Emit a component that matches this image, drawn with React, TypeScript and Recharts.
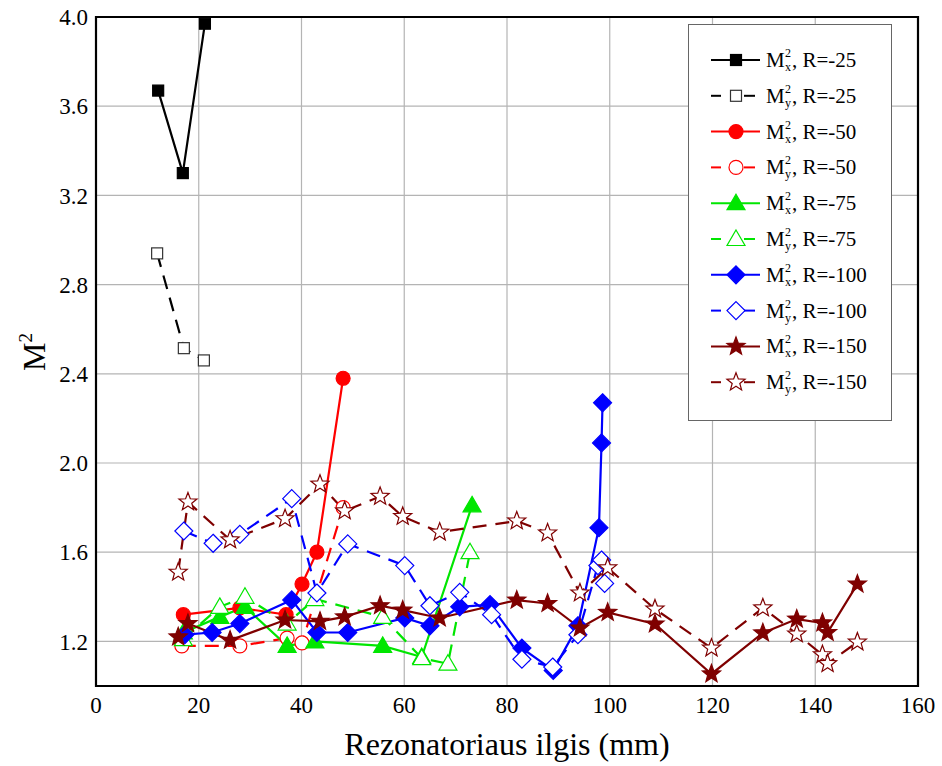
import React from 'react';
import { LineChart, Line, XAxis, YAxis, CartesianGrid, ReferenceArea } from 'recharts';

// [length mm, M^2]
const mxR25 = [[12.1, 3.67], [16.9, 3.3], [21.2, 3.97]];
const myR25 = [[11.9, 2.94], [17.1, 2.515], [21.0, 2.46]];
const mxR50 = [[17.0, 1.32], [28.0, 1.35], [37.0, 1.32], [40.1, 1.457], [43.0, 1.6], [48.1, 2.38]];
const myR50 = [[16.7, 1.18], [28.0, 1.18], [37.2, 1.215], [40.1, 1.193], [48.1, 1.8]];
const mxR75 = [[17.0, 1.24], [24.1, 1.31], [29.0, 1.355], [37.2, 1.18], [42.6, 1.2], [55.8, 1.18], [63.4, 1.13], [73.2, 1.81]];
const myR75 = [[17.0, 1.21], [24.1, 1.355], [29.0, 1.4], [37.2, 1.28], [42.6, 1.39], [55.8, 1.31], [63.4, 1.125], [68.5, 1.1], [72.8, 1.6]];
const mxR100 = [[17.3, 1.23], [22.6, 1.24], [28.0, 1.28], [38.1, 1.386], [43.0, 1.24], [49.0, 1.24], [60.1, 1.305], [65.0, 1.27], [70.8, 1.355], [76.7, 1.365], [82.9, 1.17], [89.0, 1.07], [93.8, 1.27], [97.9, 1.71], [98.4, 2.09], [98.6, 2.27]];
const myR100 = [[17.1, 1.695], [22.8, 1.64], [28.0, 1.68], [38.1, 1.84], [43.0, 1.417], [49.0, 1.637], [60.1, 1.54], [65.0, 1.36], [70.8, 1.42], [77.0, 1.32], [82.9, 1.12], [88.9, 1.085], [93.8, 1.23], [97.7, 1.54], [98.4, 1.565], [99.0, 1.46]];
const mxR150 = [[16.0, 1.22], [17.9, 1.28], [26.1, 1.205], [36.8, 1.296], [43.6, 1.29], [48.4, 1.31], [55.3, 1.36], [59.7, 1.34], [66.9, 1.305], [81.9, 1.385], [87.9, 1.37], [94.2, 1.26], [99.6, 1.33], [108.8, 1.278], [119.8, 1.054], [129.8, 1.238], [136.4, 1.3], [141.4, 1.283], [142.4, 1.24], [148.2, 1.457]];
const myR150 = [[16.0, 1.51], [17.9, 1.825], [26.1, 1.655], [36.8, 1.75], [43.6, 1.905], [48.4, 1.785], [55.3, 1.85], [59.7, 1.76], [66.9, 1.69], [81.9, 1.74], [87.9, 1.686], [94.2, 1.417], [99.6, 1.53], [108.8, 1.345], [119.8, 1.17], [129.8, 1.35], [136.4, 1.233], [141.4, 1.14], [142.4, 1.1], [148.2, 1.197]];

const xTicks = [0, 20, 40, 60, 80, 100, 120, 140, 160];
const yTicks = [1.2, 1.6, 2.0, 2.4, 2.8, 3.2, 3.6, 4.0];

const FONT = '"Liberation Serif", "Times New Roman", serif';
const GREEN = '#00e600';
const MAROON = '#7f0000';

type Shape = 'square' | 'circle' | 'triangle' | 'diamond' | 'star';

const series = [
  { key: 'mxR25', sub: 'x', r: '-25', pts: mxR25, color: '#000', dashed: false, shape: 'square' as Shape, filled: true },
  { key: 'myR25', sub: 'y', r: '-25', pts: myR25, color: '#000', dashed: true, shape: 'square' as Shape, filled: false },
  { key: 'mxR50', sub: 'x', r: '-50', pts: mxR50, color: '#ff0000', dashed: false, shape: 'circle' as Shape, filled: true },
  { key: 'myR50', sub: 'y', r: '-50', pts: myR50, color: '#ff0000', dashed: true, shape: 'circle' as Shape, filled: false },
  { key: 'mxR75', sub: 'x', r: '-75', pts: mxR75, color: GREEN, dashed: false, shape: 'triangle' as Shape, filled: true },
  { key: 'myR75', sub: 'y', r: '-75', pts: myR75, color: GREEN, dashed: true, shape: 'triangle' as Shape, filled: false },
  { key: 'mxR100', sub: 'x', r: '-100', pts: mxR100, color: '#0000ff', dashed: false, shape: 'diamond' as Shape, filled: true },
  { key: 'myR100', sub: 'y', r: '-100', pts: myR100, color: '#0000ff', dashed: true, shape: 'diamond' as Shape, filled: false },
  { key: 'mxR150', sub: 'x', r: '-150', pts: mxR150, color: MAROON, dashed: false, shape: 'star' as Shape, filled: true },
  { key: 'myR150', sub: 'y', r: '-150', pts: myR150, color: MAROON, dashed: true, shape: 'star' as Shape, filled: false },
];

const starPath = (cx: number, cy: number, ro: number, ri: number) => {
  let d = '';
  for (let i = 0; i < 10; i++) {
    const r = i % 2 === 0 ? ro : ri;
    const a = -Math.PI / 2 + (i * Math.PI) / 5;
    d += (i === 0 ? 'M' : 'L') + (cx + r * Math.cos(a)).toFixed(2) + ',' + (cy + r * Math.sin(a)).toFixed(2);
  }
  return d + 'Z';
};

const Marker = ({ cx, cy, shape, color, filled }: { cx: number; cy: number; shape: Shape; color: string; filled: boolean }) => {
  if (cx == null || cy == null) return null;
  const fill = filled ? color : '#fff';
  const sw = 1.2;
  switch (shape) {
    case 'square':
      return <rect x={cx - 5.5} y={cy - 5.5} width={11} height={11} fill={fill} stroke={filled ? color : '#333'} strokeWidth={sw} />;
    case 'circle':
      return <circle cx={cx} cy={cy} r={7} fill={fill} stroke={color} strokeWidth={sw} />;
    case 'triangle':
      return <path d={`M${cx},${cy - 9}L${cx + 9},${cy + 6.5}L${cx - 9},${cy + 6.5}Z`} fill={fill} stroke={color} strokeWidth={sw} />;
    case 'diamond':
      return <path d={`M${cx},${cy - 9}L${cx + 9},${cy}L${cx},${cy + 9}L${cx - 9},${cy}Z`} fill={fill} stroke={color} strokeWidth={sw} />;
    default:
      return <path d={starPath(cx, cy, 9.5, 4)} fill={fill} stroke={color} strokeWidth={sw} />;
  }
};

const LegendBox = () => {
  const rowH = 35.8;
  return (
    <svg width={205} height={398} style={{ position: 'absolute', left: 688, top: 24, fontFamily: FONT }}>
      <rect x={0.5} y={0.5} width={203} height={396} fill="#fff" stroke="#666" strokeWidth={1} />
      {series.map((s, i) => {
        const y = 36 + i * rowH;
        return (
          <g key={s.key}>
            {s.dashed ? (
              <>
                <line x1={23} y1={y} x2={33} y2={y} stroke={s.color} strokeWidth={2} />
                <line x1={56} y1={y} x2={67} y2={y} stroke={s.color} strokeWidth={2} />
              </>
            ) : (
              <line x1={23} y1={y} x2={72} y2={y} stroke={s.color} strokeWidth={2} />
            )}
            <Marker cx={48} cy={y} shape={s.shape} color={s.color} filled={s.filled} />
            <text x={78} y={y + 7} fontSize={21} fill="#000">M</text>
            <text x={97} y={y - 3} fontSize={12} fill="#000">2</text>
            <text x={97} y={y + 11} fontSize={12} fill="#000">{s.sub}</text>
            <text x={104} y={y + 7} fontSize={21} fill="#000">{', R=' + s.r}</text>
          </g>
        );
      })}
    </svg>
  );
};

export default function App() {
  return (
    <div style={{ position: 'absolute', left: 0, top: 0, width: 942, height: 766, background: '#fff', fontFamily: FONT }}>
      <style>{`.recharts-cartesian-axis-tick-value, .recharts-text { font-family: ${FONT}; }`}</style>
      <LineChart width={942} height={766} margin={{ top: 17, right: 24, bottom: 0, left: 0 }}>
        <CartesianGrid stroke="#b4b4b4" strokeWidth={1.2} vertical horizontal />
        <XAxis
          type="number"
          dataKey="x"
          domain={[0, 160]}
          ticks={xTicks}
          height={80}
          tickSize={0}
          tickMargin={11}
          axisLine={false}
          tick={{ fontSize: 23, fill: '#000', fontFamily: FONT }}
          allowDataOverflow
        />
        <YAxis
          type="number"
          dataKey="y"
          domain={[1, 4]}
          ticks={yTicks}
          width={96}
          tickSize={0}
          tickMargin={8}
          axisLine={false}
          tickFormatter={(v: number) => v.toFixed(1)}
          tick={{ fontSize: 23, fill: '#000', fontFamily: FONT }}
          allowDataOverflow
        />
        <ReferenceArea x1={0} x2={160} y1={1} y2={4} fill="none" stroke="#000" strokeWidth={2.2} />
        {series.map((s) => (
          <Line
            key={s.key}
            data={s.pts.map(([x, y]) => ({ x, y }))}
            dataKey="y"
            type="linear"
            stroke={s.color}
            strokeWidth={2.2}
            strokeDasharray={s.dashed ? '14 9' : undefined}
            isAnimationActive={false}
            dot={(p: any) => <Marker key={s.key + p.index} cx={p.cx} cy={p.cy} shape={s.shape} color={s.color} filled={s.filled} />}
            activeDot={false}
          />
        ))}
      </LineChart>
      <svg width={942} height={766} style={{ position: 'absolute', left: 0, top: 0, pointerEvents: 'none' }}>
        <text x={507} y={755} textAnchor="middle" fontSize={32} fontFamily={FONT} fill="#000">Rezonatoriaus ilgis (mm)</text>
        <g transform="translate(45,352) rotate(-90)">
          <text x={0} y={0} textAnchor="middle" fontSize={32} fontFamily={FONT} fill="#000">
            M<tspan fontSize={19} dy={-13}>2</tspan>
          </text>
        </g>
      </svg>
      <LegendBox />
    </div>
  );
}
